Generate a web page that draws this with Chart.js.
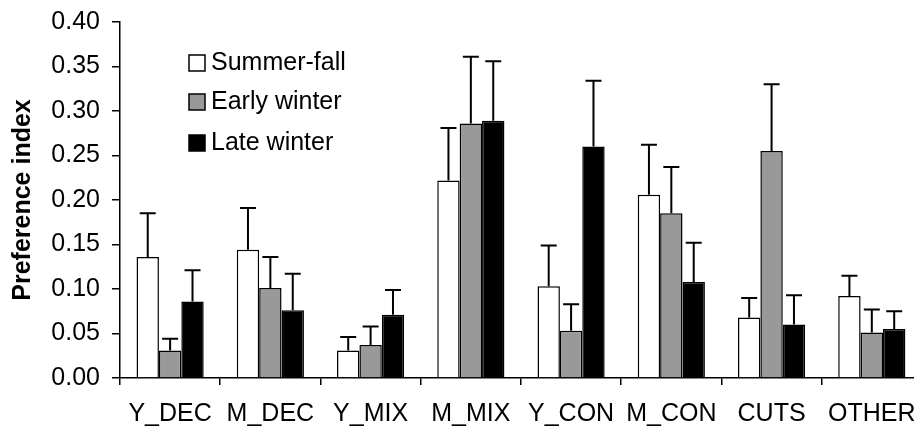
<!DOCTYPE html>
<html>
<head>
<meta charset="utf-8">
<script src="https://cdn.jsdelivr.net/npm/chart.js@4"></script>
<style>
  html, body { margin: 0; padding: 0; background: #fff; overflow: hidden; }
  #wrap { width: 914px; height: 427px; overflow: hidden; }
</style>
</head>
<body>
<div id="wrap"><canvas id="prefChart" width="930" height="427"></canvas></div>
<script>
const habitats = ['Y_DEC', 'M_DEC', 'Y_MIX', 'M_MIX', 'Y_CON', 'M_CON', 'CUTS', 'OTHER'];
const yTicks = [0, 0.05, 0.10, 0.15, 0.20, 0.25, 0.30, 0.35, 0.40];

const summerFall = [0.136, 0.144, 0.031, 0.222, 0.103, 0.206, 0.068, 0.092];
const summerFallErr = [0.049, 0.047, 0.015, 0.059, 0.046, 0.056, 0.022, 0.023];

const earlyWinter = [0.031, 0.101, 0.037, 0.286, 0.053, 0.185, 0.255, 0.051];
const earlyWinterErr = [0.013, 0.035, 0.021, 0.075, 0.030, 0.052, 0.075, 0.026];

const lateWinter = [0.086, 0.076, 0.071, 0.289, 0.260, 0.108, 0.060, 0.055];
const lateWinterErr = [0.035, 0.041, 0.028, 0.067, 0.074, 0.044, 0.033, 0.020];

const FONT = 'Arial, "Liberation Sans", sans-serif';

// upper error bars on top of each bar
const errorBars = {
    id: 'errorBars',
    afterDatasetsDraw(chart) {
        const ctx = chart.ctx;
        const y = chart.scales.y;
        ctx.save();
        ctx.strokeStyle = '#000';
        ctx.lineWidth = 2;
        chart.data.datasets.forEach((ds, i) => {
            const meta = chart.getDatasetMeta(i);
            meta.data.forEach((bar, j) => {
                const top = y.getPixelForValue(ds.data[j] + ds.errors[j]);
                ctx.beginPath();
                ctx.moveTo(bar.x, bar.y);
                ctx.lineTo(bar.x, top);
                ctx.moveTo(bar.x - 8, top);
                ctx.lineTo(bar.x + 8, top);
                ctx.stroke();
            });
        });
        ctx.restore();
    }
};

// legend drawn inside the plot area
const innerLegend = {
    id: 'innerLegend',
    afterDraw(chart) {
        const ctx = chart.ctx;
        const rows = [62, 101, 142];
        ctx.save();
        ctx.font = '25px ' + FONT;
        ctx.textBaseline = 'middle';
        chart.data.datasets.forEach((ds, i) => {
            const cy = rows[i];
            ctx.fillStyle = ds.backgroundColor;
            ctx.fillRect(189, cy - 7, 16, 16);
            ctx.strokeStyle = '#000';
            ctx.lineWidth = 1.5;
            ctx.strokeRect(189, cy - 7, 16, 16);
            ctx.fillStyle = '#000';
            ctx.fillText(ds.label, 211, cy + 1);
        });
        ctx.restore();
    }
};

const ctx = document.getElementById('prefChart').getContext('2d');
const prefChart = new Chart(ctx, {
    type: 'bar',
    data: {
        labels: habitats,
        datasets: [
            { label: 'Summer-fall', data: summerFall, errors: summerFallErr, backgroundColor: '#ffffff' },
            { label: 'Early winter', data: earlyWinter, errors: earlyWinterErr, backgroundColor: '#999999' },
            { label: 'Late winter', data: lateWinter, errors: lateWinterErr, backgroundColor: '#000000' }
        ].map(d => Object.assign(d, {
            borderColor: '#000',
            borderWidth: 1.5,
            categoryPercentage: 0.67,
            barPercentage: 1.0
        }))
    },
    options: {
        responsive: false,
        animation: false,
        layout: { padding: { top: 22, right: 7, bottom: 0, left: 0 } },
        plugins: {
            legend: { display: false },
            tooltip: { enabled: false }
        },
        scales: {
            x: {
                grid: { display: true, drawOnChartArea: false, offset: true, tickLength: 7, color: '#000', lineWidth: 1.5 },
                border: { display: true, color: '#000', width: 1.5 },
                ticks: { color: '#000', padding: 14, font: { family: FONT, size: 25 } },
                afterFit(scale) { scale.height = 49; }
            },
            y: {
                min: 0,
                max: 0.40,
                afterBuildTicks(scale) { scale.ticks = yTicks.map(v => ({ value: v })); },
                grid: { display: true, drawOnChartArea: false, tickLength: 8, color: '#000', lineWidth: 1.5 },
                border: { display: true, color: '#000', width: 1.5 },
                ticks: {
                    color: '#000',
                    padding: 12,
                    font: { family: FONT, size: 25 },
                    callback: v => v.toFixed(2)
                },
                title: {
                    display: true,
                    text: 'Preference index',
                    color: '#000',
                    padding: { top: 8, bottom: 0 },
                    font: { family: FONT, size: 25, weight: 'bold' }
                },
                afterFit(scale) {
                    scale.width = 120;
                    scale.paddingTop = 0;
                    scale.paddingBottom = 0;
                }
            }
        }
    },
    plugins: [errorBars, innerLegend]
});
</script>
</body>
</html>
